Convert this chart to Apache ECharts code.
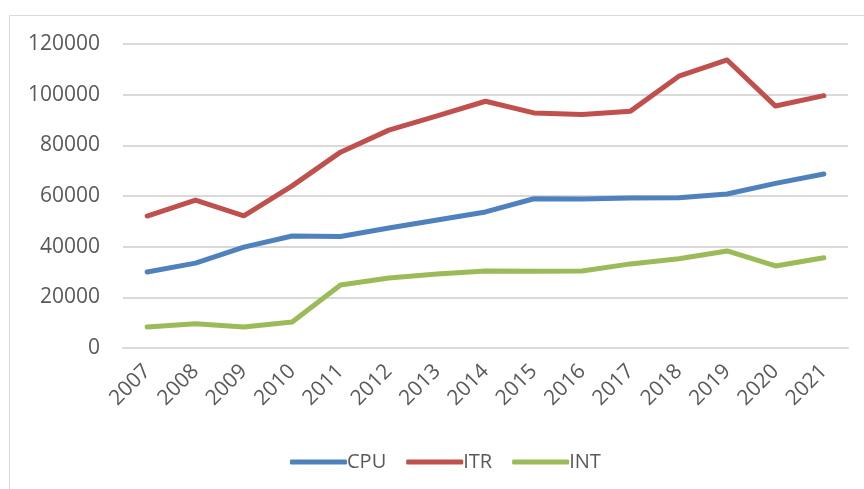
<!DOCTYPE html>
<html>
<head>
<meta charset="utf-8">
<script src="https://cdn.jsdelivr.net/npm/echarts@6/dist/echarts.min.js"></script>
<style>
  html, body { margin: 0; padding: 0; background: #fff; }
  #chart { width: 864px; height: 489px; }
</style>
</head>
<body>
<div id="chart"></div>
<script>
const years = ['2007', '2008', '2009', '2010', '2011', '2012', '2013', '2014', '2015', '2016', '2017', '2018', '2019', '2020', '2021']
const cpu = [30000, 33500, 39800, 44200, 44000, 47400, 50500, 53700, 58900, 58800, 59200, 59300, 60800, 65000, 68700]
const itr = [52100, 58400, 52200, 64000, 77300, 86000, 91600, 97400, 92800, 92200, 93500, 107300, 113700, 95500, 99600]
const int = [8300, 9600, 8300, 10300, 24900, 27600, 29200, 30400, 30300, 30400, 33200, 35200, 38300, 32400, 35600]

const labelColor = '#595959'
const fontFamily = '"Open Sans", "Liberation Sans", sans-serif'

let chart = echarts.init(document.getElementById('chart'))

function lineSeries (name, data, color) {
  return {
    name: name,
    type: 'line',
    data: data,
    showSymbol: false,
    symbol: 'none',
    lineStyle: { width: 5, color: color, cap: 'round', join: 'round' },
    itemStyle: { color: color }
  }
}

let option = {
  animation: false,
  color: ['#4f81bd', '#c0504d', '#9bbb59'],
  graphic: [
    {
      type: 'rect',
      shape: { x: 9.5, y: 15.5, width: 900, height: 500 },
      style: { fill: 'none', stroke: '#d9d9d9', lineWidth: 1 },
      silent: true
    }
  ],
  grid: {
    left: 123,
    right: 16,
    top: 44,
    bottom: 141,
    containLabel: false,
    outerBoundsMode: 'none'
  },
  legend: {
    left: 285,
    top: 447,
    itemWidth: 57,
    itemHeight: 5,
    itemGap: 20,
    icon: 'roundRect',
    textStyle: { color: labelColor, fontSize: 20, fontFamily: fontFamily, padding: [0, 0, 0, -5] },
    data: ['CPU', 'ITR', 'INT']
  },
  xAxis: {
    type: 'category',
    data: years,
    boundaryGap: true,
    axisLine: { show: true, lineStyle: { color: '#d9d9d9', width: 2 } },
    axisTick: { show: false },
    axisLabel: {
      interval: 0,
      rotate: 45,
      margin: 20,
      color: labelColor,
      fontSize: 21,
      fontFamily: fontFamily
    }
  },
  yAxis: {
    type: 'value',
    min: 0,
    max: 120000,
    interval: 20000,
    axisLine: { show: false },
    axisTick: { show: false },
    splitLine: { lineStyle: { color: '#d9d9d9', width: 2 } },
    axisLabel: {
      margin: 23,
      color: labelColor,
      fontSize: 21,
      fontFamily: fontFamily,
      formatter: v => String(v)
    }
  },
  series: [
    lineSeries('CPU', cpu, '#4f81bd'),
    lineSeries('ITR', itr, '#c0504d'),
    lineSeries('INT', int, '#9bbb59')
  ]
}

chart.setOption(option)
</script>
</body>
</html>
